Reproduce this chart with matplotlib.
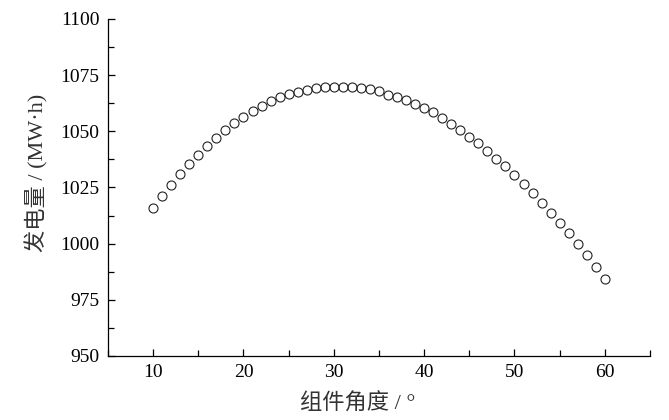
import matplotlib
matplotlib.use("Agg")
import matplotlib.pyplot as plt
from matplotlib.ticker import MultipleLocator

# 组件角度 (deg) vs 发电量 (MW·h)
angle = list(range(10, 61))
energy = [
    1015.7, 1021.1, 1026.3, 1031.0, 1035.5, 1039.6, 1043.5, 1047.2, 1050.4, 1053.5,
    1056.5, 1059.2, 1061.4, 1063.3, 1065.3, 1066.4, 1067.6, 1068.5, 1069.3, 1069.7,
    1069.9, 1069.9, 1069.7, 1069.3, 1068.7, 1067.8, 1066.3, 1065.1, 1063.8, 1062.2,
    1060.4, 1058.4, 1055.9, 1053.4, 1050.4, 1047.6, 1044.6, 1041.4, 1037.8, 1034.4,
    1030.6, 1026.7, 1022.6, 1018.2, 1013.8, 1009.3, 1004.8, 999.9, 994.8, 989.6,
    984.3,
]

xlabel = "组件角度 / °"
ylabel = "发电量 / (MW·h)"

plt.rcParams['font.family'] = ['Liberation Serif', 'Noto Sans CJK SC', 'DejaVu Sans']

fig = plt.figure(figsize=(6.69, 4.2), dpi=100)
ax = fig.add_axes([0.1614, 0.1524, 0.9716 - 0.1614, 0.9548 - 0.1524])

ax.plot(angle, energy, linestyle='none', marker='o', markersize=6.5,
        markerfacecolor='none', markeredgecolor='#222222', markeredgewidth=0.8)

ax.set_xlim(5, 65)
ax.set_ylim(950, 1100)
ax.xaxis.set_major_locator(MultipleLocator(10))
ax.xaxis.set_minor_locator(MultipleLocator(5))
ax.yaxis.set_major_locator(MultipleLocator(25))
ax.yaxis.set_minor_locator(MultipleLocator(12.5))

ax.spines['top'].set_visible(False)
ax.spines['right'].set_visible(False)
for s in ('left', 'bottom'):
    ax.spines[s].set_linewidth(0.9)

ax.tick_params(which='both', direction='in', width=0.9, labelsize=14, pad=6)
ax.tick_params(which='major', length=5)
ax.tick_params(which='minor', length=4)

ax.set_xlabel(xlabel, fontsize=16, color='#333333')
ax.set_ylabel(ylabel, fontsize=16, color='#333333')
ax.xaxis.set_label_coords(0.461, -0.142)
ax.yaxis.set_label_coords(-0.131, 0.543)
ax.xaxis.label.set_va('center')
ax.yaxis.label.set_va('center')

fig.savefig("out.png", dpi=100)
